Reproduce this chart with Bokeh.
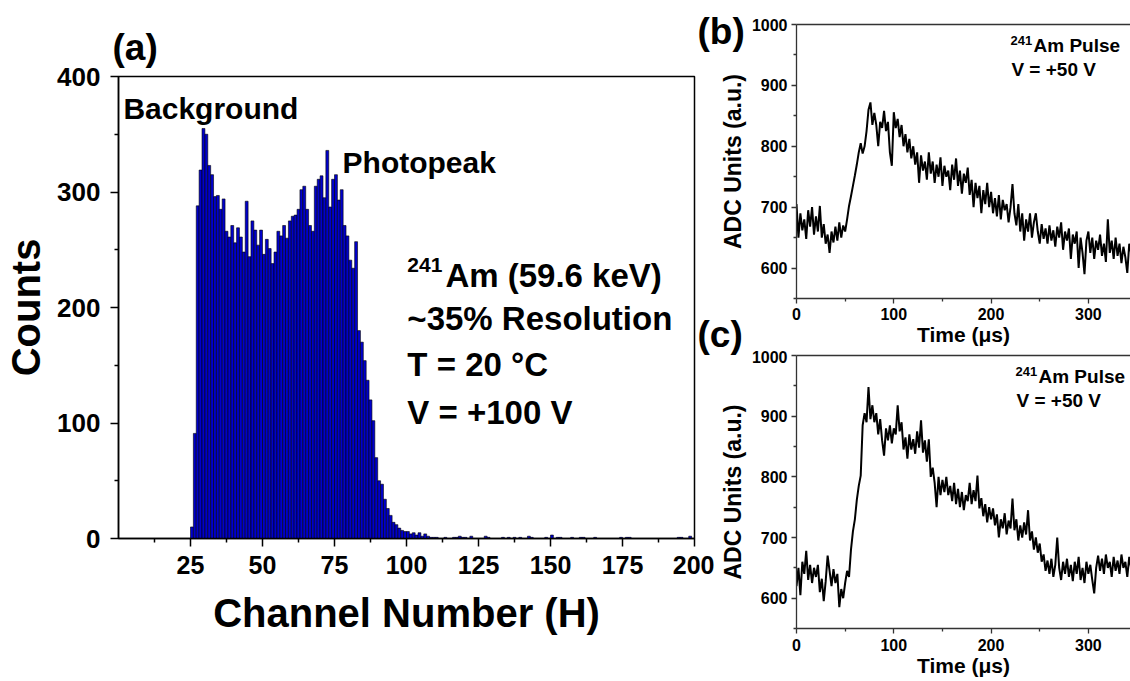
import math
from bokeh.plotting import figure
from bokeh.models import Range1d, FixedTicker, Label, LinearAxis
from bokeh.layouts import row, column
from bokeh.embed import file_html
from bokeh.resources import INLINE

FONT = "Liberation Sans"

# ---------------- data: panel (a) histogram ----------------
hist_channel = list(range(25, 111)) + [113, 116, 117, 118, 119, 120, 122, 127, 128, 133, 135, 137,
                                       139, 142, 143, 148, 150, 152, 153, 157, 160, 161, 165, 174,
                                       176, 177, 194, 195, 198]
hist_counts = [10, 91, 288, 319, 355, 350, 323, 315, 296, 297,
               285, 294, 266, 261, 271, 256, 269, 261, 248, 292,
               244, 275, 267, 254, 267, 246, 259, 251, 238, 248,
               266, 262, 271, 260, 275, 279, 280, 285, 302, 305,
               285, 271, 266, 305, 311, 314, 295, 336, 287, 311,
               315, 293, 302, 271, 262, 241, 234, 257, 180, 170,
               154, 137, 120, 102, 70, 50, 47, 34, 26, 20,
               14, 12, 9, 7, 6, 6, 4, 5, 3, 5,
               2, 4, 2, 1, 1, 1] + [1, 1, 1, 2, 1, 1, 2, 2, 1, 1, 1, 1,
                                    1, 2, 1, 1, 3, 1, 1, 1, 1, 1, 1, 1,
                                    1, 1, 1, 1, 2]
a_xticks = [25, 50, 75, 100, 125, 150, 175, 200]
a_xminor = [12.5, 37.5, 62.5, 87.5, 112.5, 137.5, 162.5, 187.5]
a_yticks = [0, 100, 200, 300, 400]
a_yminor = [50, 150, 250, 350]

# ---------------- data: panels (b), (c) pulses ----------------
time_us = list(range(0, 345, 2))
pulse_b = [705, 650, 690, 662, 680, 648, 695, 668, 700, 655,
           685, 660, 702, 650, 672, 640, 655, 625, 660, 642,
           668, 645, 675, 650, 670, 660, 680, 702, 718, 735,
           752, 770, 790, 805, 788, 800, 825, 860, 872, 835,
           855, 835, 800, 840, 830, 858, 825, 840, 790, 768,
           856, 830, 845, 815, 835, 800, 820, 790, 812, 780,
           800, 770, 790, 740, 785, 760, 775, 745, 790, 755,
           775, 740, 770, 750, 782, 735, 768, 750, 760, 728,
           770, 745, 780, 735, 760, 722, 755, 740, 765, 720,
           745, 700, 740, 715, 735, 690, 728, 705, 740, 700,
           725, 690, 715, 685, 720, 680, 712, 695, 705, 675,
           700, 738, 690, 670, 705, 660, 690, 645, 680, 660,
           690, 650, 675, 690, 660, 640, 672, 648, 665, 640,
           670, 645, 662, 635, 668, 650, 675, 630, 660, 645,
           665, 615, 655, 640, 660, 600, 650, 625, 590, 645,
           660, 625, 650, 615, 645, 630, 655, 620, 640, 610,
           680, 625, 645, 615, 650, 620, 640, 608, 635, 618,
           592, 640, 625]
pulse_c = [620, 650, 605, 660, 640, 678, 630, 655, 625, 650,
           635, 655, 610, 632, 595, 628, 670, 645, 620, 648,
           625, 640, 585, 615, 600, 625, 645, 635, 680, 710,
           730, 762, 785, 802, 885, 905, 890, 948, 895, 918,
           890, 905, 870, 895, 860, 835, 880, 860, 885, 855,
           880, 870, 918, 875, 890, 845, 865, 830, 870, 845,
           862, 838, 875, 848, 893, 840, 860, 825, 862, 800,
           815, 790, 750, 800, 770, 795, 775, 800, 770, 785,
           760, 790, 755, 780, 750, 775, 745, 770, 760, 790,
           755, 778, 760, 802, 748, 765, 735, 755, 725, 750,
           730, 748, 720, 738, 700, 730, 715, 740, 705, 728,
           715, 764, 712, 730, 695, 720, 700, 725, 705, 745,
           695, 710, 680, 700, 675, 690, 660, 672, 645, 662,
           640, 665, 635, 655, 700, 650, 630, 660, 640, 665,
           635, 655, 628, 660, 640, 668, 630, 650, 625, 660,
           640, 655, 630, 608, 650, 670, 645, 665, 640, 672,
           650, 660, 635, 668, 645, 662, 640, 672, 650, 660,
           635, 668, 650]
bc_xticks = [0, 100, 200, 300]
bc_xminor = [50, 150, 250]
bc_yticks = [600, 700, 800, 900, 1000]
bc_yminor = [550, 650, 750, 850, 950]


def style_axis(ax, major_out, minor_out, size, standoff, color, lw):
    ax.major_tick_in = 0
    ax.major_tick_out = major_out
    ax.minor_tick_in = 0
    ax.minor_tick_out = minor_out
    ax.major_tick_line_color = color
    ax.minor_tick_line_color = color
    ax.major_tick_line_width = lw
    ax.minor_tick_line_width = lw
    ax.axis_line_color = color
    ax.axis_line_width = lw
    ax.major_label_text_font = FONT
    ax.major_label_text_font_style = "bold"
    ax.major_label_text_font_size = size
    ax.major_label_text_color = "black"
    ax.major_label_standoff = standoff


def axis_title(ax, text, size, standoff):
    ax.axis_label = text
    ax.axis_label_text_font = FONT
    ax.axis_label_text_font_style = "bold"
    ax.axis_label_text_font_size = size
    ax.axis_label_text_color = "black"
    ax.axis_label_standoff = standoff


def label(p, x, y, text, size, align="left"):
    p.add_layout(Label(x=x, y=y, text=text, text_font=FONT,
                       text_font_style="bold", text_font_size=size, text_color="black",
                       text_align=align, text_baseline="middle"))


# ---------------- panel (a) ----------------
pa = figure(width=714, height=681, x_range=Range1d(0, 200), y_range=Range1d(0, 400),
            output_backend="svg", toolbar_location=None,
            min_border_left=118, min_border_right=20, min_border_top=76, min_border_bottom=143)
pa.grid.visible = False
pa.outline_line_color = "black"
pa.outline_line_width = 1.5
pa.xaxis.ticker = FixedTicker(ticks=a_xticks, minor_ticks=a_xminor)
pa.yaxis.ticker = FixedTicker(ticks=a_yticks, minor_ticks=a_yminor)
style_axis(pa.xaxis[0], 8, 4, "25px", 9, "black", 1.5)
style_axis(pa.yaxis[0], 8, 4, "26px", 10, "black", 1.5)
axis_title(pa.xaxis[0], "Channel Number (H)", "40px", 14)
axis_title(pa.yaxis[0], "Counts", "40px", 6)

pa.vbar(x=[c + 0.5 for c in hist_channel], width=1.0, top=hist_counts, bottom=0,
        fill_color="#0000cc", line_color="black", line_width=0.6)

label(pa, 1.7, 372.6, "Background", "30px")
label(pa, 77.8, 325.9, "Photopeak", "30px")
label(pa, 100.3, 237.0, "241", "21px")
label(pa, 113.5, 227.5, "Am (59.6 keV)", "33px")
label(pa, 100.3, 190.5, "~35% Resolution", "33px")
label(pa, 100.3, 151.0, "T = 20 °C", "33px")
label(pa, 100.3, 109.0, "V = +100 V", "33px")


def pulse_fig(h, top, bottom, yvals, tick_standoff):
    p = figure(width=433, height=h, x_range=Range1d(0, 343.3), y_range=Range1d(550, 1000),
               output_backend="svg", toolbar_location=None,
               min_border_left=99, min_border_right=0, min_border_top=top, min_border_bottom=bottom)
    p.grid.visible = False
    p.outline_line_color = None
    p.border_fill_color = None
    p.background_fill_color = "white"
    p.xaxis.ticker = FixedTicker(ticks=bc_xticks, minor_ticks=bc_xminor)
    p.yaxis.ticker = FixedTicker(ticks=bc_yticks, minor_ticks=bc_yminor)
    style_axis(p.xaxis[0], 5, 3, "16px", tick_standoff, "#333333", 1.3)
    style_axis(p.yaxis[0], 5, 3, "16px", 4, "#333333", 1.3)
    axis_title(p.xaxis[0], "Time (μs)", "21px", 0)
    axis_title(p.yaxis[0], "ADC Units (a.u.)", "23px", 3)
    topax = LinearAxis(ticker=FixedTicker(ticks=[]), axis_line_color="#333333", axis_line_width=1.3,
                       major_tick_out=0, major_tick_in=0, minor_tick_out=0, minor_tick_in=0)
    p.add_layout(topax, "above")
    p.line(time_us, yvals, line_color="black", line_width=2.0)
    return p


pb = pulse_fig(350, 24, 52, pulse_b, 4)
label(pb, 219.9, 974.0, "241", "13px")
label(pb, 243.6, 964.8, "Am Pulse", "19px")
label(pb, 220.9, 925.3, "V = +50 V", "19px")

pc = pulse_fig(331, 5, 53, pulse_c, 5)
label(pc, 225.1, 974.0, "241", "13px")
label(pc, 248.7, 964.8, "Am Pulse", "19px")
label(pc, 226.1, 925.3, "V = +50 V", "19px")

# transparent overlay for the panel letters (pixel coordinates from top-left)
ov = figure(width=1130, height=681, x_range=Range1d(0, 1130), y_range=Range1d(681, 0),
            x_axis_type=None, y_axis_type=None, output_backend="svg", toolbar_location=None,
            min_border=0, margin=(-681, 0, 0, 0))
ov.grid.visible = False
ov.outline_line_color = None
ov.border_fill_color = None
ov.background_fill_color = None
label(ov, 112, 47.2, "(a)", "37px")
label(ov, 697, 31.2, "(b)", "37px")
label(ov, 697, 334.2, "(c)", "37px")

right = column(pb, pc, margin=(0, 0, 0, -17))
layout = column(row(pa, right), ov)

open("out.html", "w").write(file_html(layout, INLINE))
